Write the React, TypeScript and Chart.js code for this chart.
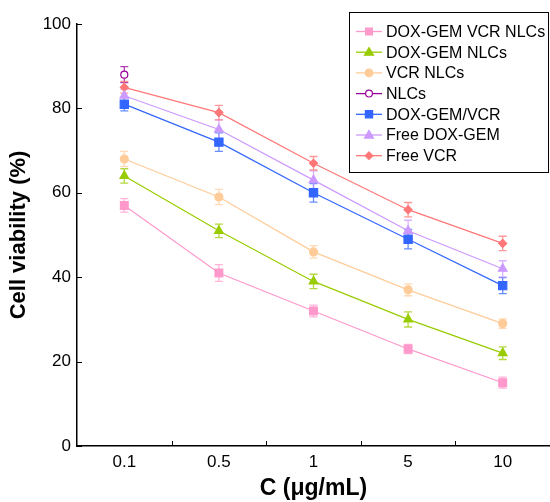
import React, { useEffect, useRef } from "react";
import { Chart, registerables } from "chart.js";

Chart.register(...registerables);

const categories = ["0.1", "0.5", "1", "5", "10"];
const yTicks = [0, 20, 40, 60, 80, 100];

const seriesLabels = [
  "DOX-GEM VCR NLCs",
  "DOX-GEM NLCs",
  "VCR NLCs",
  "NLCs",
  "DOX-GEM/VCR",
  "Free DOX-GEM",
  "Free VCR",
];
const dgVcrNlc = [57, 41, 32, 23, 15];
const dgVcrNlcErr = [1.6, 2.0, 1.4, 1.1, 1.3];
const dgNlc = [64, 51, 39, 30, 22];
const dgNlcErr = [1.7, 1.6, 1.7, 1.8, 1.5];
const vcrNlc = [68, 59, 46, 37, 29];
const vcrNlcErr = [1.8, 1.8, 1.5, 1.4, 1.1];
const nlc = [88, null, null, null, null];
const nlcErr = [1.9, 0, 0, 0, 0];
const dgVcr = [81, 72, 60, 49, 38];
const dgVcrErr = [1.6, 2.2, 2.2, 2.3, 1.9];
const freeDg = [83, 75, 63, 51, 42];
const freeDgErr = [1.5, 2.3, 2.2, 2.5, 1.9];
const freeVcr = [85, 79, 67, 56, 48];
const freeVcrErr = [1.4, 1.7, 1.6, 1.7, 1.7];

const seriesData = [dgVcrNlc, dgNlc, vcrNlc, nlc, dgVcr, freeDg, freeVcr];
const seriesErr = [dgVcrNlcErr, dgNlcErr, vcrNlcErr, nlcErr, dgVcrErr, freeDgErr, freeVcrErr];
const seriesColors = ["#ff99cc", "#99cc00", "#ffcc99", "#990099", "#3366ff", "#cc99ff", "#ff7777"];
const seriesShapes = ["rect", "triangle", "circle", "circle", "rect", "triangle", "rectRot"];
const seriesRadius = [5.5, 5, 4, 3.5, 5.8, 5, 4];
const legendRadius = [3.4, 4.5, 3.8, 3.4, 3.6, 4.5, 3.8];
const seriesFill = ["#ff99cc", "#99cc00", "#ffcc99", "#ffffff", "#3366ff", "#cc99ff", "#ff7777"];

const FONT = "'Liberation Sans', Arial, sans-serif";

function drawMarker(ctx: CanvasRenderingContext2D, shape: string, x: number, y: number, r: number, fill: string, stroke: string) {
  ctx.save();
  ctx.fillStyle = fill;
  ctx.strokeStyle = stroke;
  ctx.lineWidth = 1.2;
  ctx.beginPath();
  if (shape === "rect") {
    ctx.rect(x - r, y - r, 2 * r, 2 * r);
  } else if (shape === "triangle") {
    const h = r * 1.7;
    ctx.moveTo(x, y - h * 0.6);
    ctx.lineTo(x + r, y + h * 0.4);
    ctx.lineTo(x - r, y + h * 0.4);
    ctx.closePath();
  } else if (shape === "rectRot") {
    ctx.moveTo(x, y - r);
    ctx.lineTo(x + r, y);
    ctx.lineTo(x, y + r);
    ctx.lineTo(x - r, y);
    ctx.closePath();
  } else {
    ctx.arc(x, y, r, 0, Math.PI * 2);
  }
  ctx.fill();
  ctx.stroke();
  ctx.restore();
}

const customPlugin = {
  id: "custom",
  beforeDatasetsDraw(chart: any) {
    const ctx = chart.ctx as CanvasRenderingContext2D;
    const ys = chart.scales.y;
    chart.data.datasets.forEach((ds: any, i: number) => {
      const meta = chart.getDatasetMeta(i);
      const errs = seriesErr[i];
      ctx.save();
      ctx.strokeStyle = seriesColors[i];
      ctx.globalAlpha = 0.75;
      ctx.lineWidth = 1.3;
      meta.data.forEach((pt: any, j: number) => {
        const v = ds.data[j];
        if (v === null || v === undefined) return;
        const e = errs[j];
        const x = pt.x;
        const yt = ys.getPixelForValue(v + e);
        const yb = ys.getPixelForValue(v - e);
        ctx.beginPath();
        ctx.moveTo(x, yt);
        ctx.lineTo(x, yb);
        ctx.moveTo(x - 4, yt);
        ctx.lineTo(x + 4, yt);
        ctx.moveTo(x - 4, yb);
        ctx.lineTo(x + 4, yb);
        ctx.stroke();
      });
      ctx.restore();
    });
  },
  afterDraw(chart: any) {
    const ctx = chart.ctx as CanvasRenderingContext2D;
    const xs = chart.scales.x;
    const ys = chart.scales.y;
    const area = chart.chartArea;
    ctx.save();
    ctx.strokeStyle = "#000";
    ctx.lineWidth = 1;
    ys.ticks.forEach((t: any) => {
      const y = Math.round(ys.getPixelForValue(t.value)) + 0.5;
      ctx.beginPath();
      ctx.moveTo(area.left, y);
      ctx.lineTo(area.left + 5, y);
      ctx.stroke();
    });
    for (let k = 1; k < categories.length; k++) {
      const x = Math.round((xs.getPixelForValue(k - 1) + xs.getPixelForValue(k)) / 2) + 0.5;
      ctx.beginPath();
      ctx.moveTo(x, area.bottom);
      ctx.lineTo(x, area.bottom - 5);
      ctx.stroke();
    }
    ctx.restore();

    const bx = 349.5, by = 12.5, bw = 199, bh = 160;
    ctx.save();
    ctx.fillStyle = "#fff";
    ctx.fillRect(bx, by, bw, bh);
    ctx.strokeStyle = "#000";
    ctx.lineWidth = 1;
    ctx.strokeRect(bx, by, bw, bh);
    ctx.font = `16px ${FONT}`;
    ctx.textBaseline = "middle";
    ctx.textAlign = "left";
    seriesLabels.forEach((lab, i) => {
      const y = 31.5 + i * 20.7;
      ctx.strokeStyle = seriesColors[i];
      ctx.lineWidth = 1.3;
      ctx.beginPath();
      ctx.moveTo(356, y);
      ctx.lineTo(382, y);
      ctx.stroke();
      drawMarker(ctx, seriesShapes[i], 369, y, legendRadius[i], seriesFill[i], seriesColors[i]);
      ctx.fillStyle = "#000";
      ctx.fillText(lab, 386, y + 1);
    });
    ctx.restore();
  },
};

export default function App() {
  const ref = useRef<HTMLCanvasElement | null>(null);
  useEffect(() => {
    if (!ref.current) return;
    const chart = new Chart(ref.current, {
      type: "line",
      data: {
        labels: categories,
        datasets: seriesLabels.map((label, i) => ({
          label,
          data: seriesData[i],
          borderColor: seriesColors[i],
          backgroundColor: seriesFill[i],
          pointBorderColor: seriesColors[i],
          pointBackgroundColor: seriesFill[i],
          pointStyle: seriesShapes[i] as any,
          pointRadius: seriesRadius[i],
          pointBorderWidth: 1.2,
          borderWidth: 1.2,
          spanGaps: false,
          tension: 0,
        })),
      },
      options: {
        animation: false,
        responsive: false,
        events: [],
        layout: { autoPadding: false, padding: { top: 24, right: 0, left: 0, bottom: 0 } },
        plugins: { legend: { display: false }, tooltip: { enabled: false } },
        scales: {
          x: {
            type: "category",
            offset: true,
            grid: { display: false, drawTicks: false },
            border: { display: true, color: "#000", width: 1.5 },
            ticks: { color: "#000", font: { family: FONT, size: 17 }, padding: 6, maxRotation: 0 },
            title: {
              display: true,
              text: "C (μg/mL)",
              color: "#000",
              font: { family: FONT, size: 23, weight: "bold" },
              padding: { top: -4, bottom: 0 },
            },
            afterFit: (s: any) => {
              s.height = 56;
              s.paddingLeft = 0;
              s.paddingRight = 0;
            },
          },
          y: {
            min: 0,
            max: 100,
            afterBuildTicks: (s: any) => {
              s.ticks = yTicks.map((v) => ({ value: v }));
            },
            grid: { display: false, drawTicks: false },
            border: { display: true, color: "#000", width: 1.5 },
            ticks: { color: "#000", font: { family: FONT, size: 17 }, padding: 6 },
            title: {
              display: true,
              text: "Cell viability (%)",
              color: "#000",
              font: { family: FONT, size: 22, weight: "bold" },
              padding: { top: 6, bottom: 0 },
            },
            afterFit: (s: any) => {
              s.width = 77;
            },
          },
        },
      },
      plugins: [customPlugin],
    });
    return () => chart.destroy();
  }, []);
  return (
    <div style={{ position: "absolute", left: 0, top: 0, width: 550, height: 502, background: "#fff" }}>
      <canvas ref={ref} width={550} height={502} style={{ width: 550, height: 502, display: "block" }} />
    </div>
  );
}
